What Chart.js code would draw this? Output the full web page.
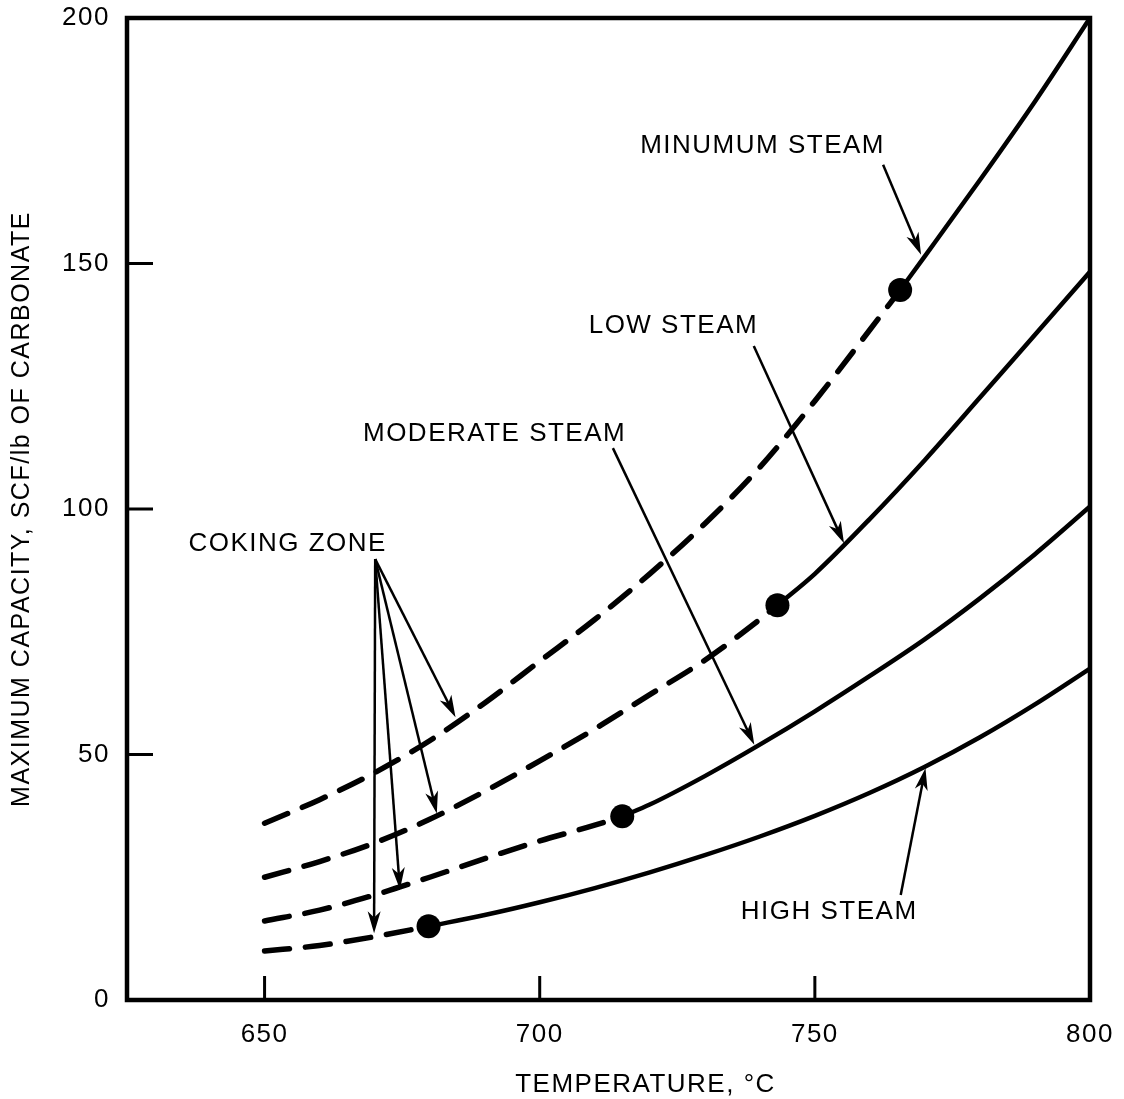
<!DOCTYPE html>
<html>
<head>
<meta charset="utf-8">
<title>Maximum capacity vs temperature</title>
<script src="https://cdn.jsdelivr.net/npm/chart.js@4.4.1/dist/chart.umd.min.js"></script>
<style>
  html, body { margin: 0; padding: 0; background: #fff; }
  #wrap { width: 1124px; height: 1099px; }
</style>
</head>
<body>
<div id="wrap"><canvas id="capacityChart" width="1124" height="1099"></canvas></div>
<script>
// Values (temperature in deg C, capacity in SCF/lb)
const tempTicks = [650, 700, 750, 800];
const capTicks = [0, 50, 100, 150, 200];

const minSteamTemp = [650, 660, 670, 680, 690, 700, 710, 720, 730, 740, 750, 760, 765.5, 770, 780, 790, 800];
const minSteamCap  = [36, 40.8, 46.3, 52.8, 60.5, 69, 77.5, 86.8, 97, 108.5, 122, 136.5, 144.6, 151.5, 167, 183, 200];

const lowSteamTemp = [650, 660, 670, 680, 690, 700, 710, 720, 730, 740, 743.2, 750, 760, 770, 780, 790, 800];
const lowSteamCap  = [25, 28.2, 32, 36.8, 42.5, 48.7, 55.2, 62.2, 69.2, 77.5, 80.4, 86.8, 98, 110, 122.7, 135.5, 148.3];

const modSteamTemp = [650, 660, 670, 680, 690, 700, 710, 715, 720, 730, 740, 750, 760, 770, 780, 790, 800];
const modSteamCap  = [16.1, 18.3, 21.4, 25, 28.8, 32.4, 35.6, 37.4, 39.8, 45.6, 52, 58.8, 66, 73.5, 81.8, 90.8, 100.5];

const highSteamTemp = [650, 660, 670, 679.8, 690, 700, 710, 720, 730, 740, 750, 760, 770, 780, 790, 800];
const highSteamCap  = [10, 11.1, 12.9, 15, 17.3, 19.9, 22.8, 26, 29.5, 33.3, 37.5, 42.2, 47.5, 53.5, 60.2, 67.5];

// coking limit: the curves are dashed below these points, solid above
const limitTemp = [765.5, 743.2, 715, 679.8];
const limitCap  = [144.6, 80.4, 37.4, 15];

const fontFamily = '"Liberation Sans", Arial, Helvetica, sans-serif';
const spacing = '1.5px';

// callouts, placed in data units
const notes = [
  { text: 'MINUMUM STEAM', at: [740.5, 173.9] },
  { text: 'LOW STEAM', at: [724.3, 137.3] },
  { text: 'MODERATE STEAM', at: [691.8, 115.3] },
  { text: 'COKING ZONE', at: [654.2, 92.9] },
  { text: 'HIGH STEAM', at: [752.6, 18] }
];
const arrows = [
  { from: [762.4, 170.1], to: [769.3, 151.8] },
  { from: [738.9, 133.2], to: [755.3, 93.0] },
  { from: [713.3, 112.4], to: [739.0, 52.0] },
  { from: [670.1, 89.8], to: [684.7, 57.6] },
  { from: [670.1, 89.8], to: [681.3, 38.0] },
  { from: [670.1, 89.8], to: [674.6, 22.5] },
  { from: [670.1, 89.8], to: [669.9, 13.6] },
  { from: [765.6, 21.4], to: [770.1, 47.2] }
];

const curves = [
  [minSteamTemp, minSteamCap],
  [lowSteamTemp, lowSteamCap],
  [modSteamTemp, modSteamCap],
  [highSteamTemp, highSteamCap]
];

const datasets = [{
  label: 'limit',
  data: limitTemp.map((t, i) => ({ x: t, y: limitCap[i] })),
  showLine: false,
  pointRadius: 12,
  pointHoverRadius: 12,
  pointBackgroundColor: '#000',
  pointBorderWidth: 0,
  order: 0
}];

curves.forEach(([temps, caps], i) => {
  const pts = temps.map((t, k) => ({ x: t, y: caps[k] }));
  datasets.push({
    label: 'coking ' + i,
    data: pts.filter(p => p.x <= limitTemp[i]),
    borderColor: '#000',
    borderWidth: 5.5,
    borderDash: [25, 16],
    borderCapStyle: 'round',
    pointRadius: 0,
    cubicInterpolationMode: 'monotone',
    fill: false,
    order: 1
  });
  datasets.push({
    label: 'curve ' + i,
    data: pts.filter(p => p.x >= limitTemp[i]),
    borderColor: '#000',
    borderWidth: 4.5,
    pointRadius: 0,
    cubicInterpolationMode: 'monotone',
    fill: false,
    order: 1
  });
});

function drawArrow(ctx, x1, y1, x2, y2) {
  const ang = Math.atan2(y2 - y1, x2 - x1);
  const c = Math.cos(ang), s = Math.sin(ang);
  const len = 22, half = 6.5;
  ctx.beginPath();
  ctx.moveTo(x1, y1);
  ctx.lineTo(x2 - c * len * 0.7, y2 - s * len * 0.7);
  ctx.stroke();
  ctx.beginPath();
  ctx.moveTo(x2, y2);
  ctx.lineTo(x2 - c * len + s * half, y2 - s * len - c * half);
  ctx.lineTo(x2 - c * len * 0.72, y2 - s * len * 0.72);
  ctx.lineTo(x2 - c * len - s * half, y2 - s * len + c * half);
  ctx.closePath();
  ctx.fill();
}

// tick labels may hang past the plot box; the layout padding already leaves room
function noLabelOverhang(s) {
  s.paddingTop = 0;
  s.paddingBottom = 0;
  s.paddingLeft = 0;
  s.paddingRight = 0;
}

const framePlugin = {
  id: 'frameAndNotes',
  beforeInit(chart) {
    // the scanned lettering is wide, so open it up a little everywhere
    chart.ctx.letterSpacing = spacing;
  },
  beforeDraw(chart) {
    chart.ctx.letterSpacing = spacing;
  },
  afterDatasetsDraw(chart) {
    const { ctx, chartArea: a, scales: { x, y } } = chart;
    ctx.save();
    ctx.strokeStyle = '#000';
    ctx.fillStyle = '#000';

    // box round the plot
    ctx.lineWidth = 4.5;
    ctx.strokeRect(a.left, a.top, a.right - a.left, a.bottom - a.top);

    // tick marks point inwards
    ctx.lineWidth = 3;
    ctx.beginPath();
    x.ticks.forEach(t => {
      const px = x.getPixelForValue(t.value);
      ctx.moveTo(px, a.bottom);
      ctx.lineTo(px, a.bottom - 24);
    });
    y.ticks.forEach(t => {
      const py = y.getPixelForValue(t.value);
      ctx.moveTo(a.left, py);
      ctx.lineTo(a.left + 26, py);
    });
    ctx.stroke();

    // callouts
    ctx.font = '26px ' + fontFamily;
    ctx.letterSpacing = spacing;
    ctx.textAlign = 'center';
    ctx.textBaseline = 'middle';
    notes.forEach(n => {
      ctx.fillText(n.text, x.getPixelForValue(n.at[0]), y.getPixelForValue(n.at[1]));
    });
    ctx.lineWidth = 2.5;
    arrows.forEach(ar => {
      drawArrow(ctx,
        x.getPixelForValue(ar.from[0]), y.getPixelForValue(ar.from[1]),
        x.getPixelForValue(ar.to[0]), y.getPixelForValue(ar.to[1]));
    });

    // x axis title sits a little right of centre in the original
    ctx.fillText('TEMPERATURE, \u00B0C', (a.left + a.right) / 2 + 37, 1085);
    ctx.restore();
  }
};

new Chart(document.getElementById('capacityChart').getContext('2d'), {
  type: 'line',
  data: { datasets: datasets },
  options: {
    responsive: false,
    animation: false,
    layout: { padding: { top: 18, right: 34, left: 0, bottom: 0 } },
    plugins: {
      legend: { display: false },
      tooltip: { enabled: false }
    },
    scales: {
      x: {
        type: 'linear',
        min: 625,
        max: 800,
        afterBuildTicks: s => { s.ticks = tempTicks.map(v => ({ value: v })); },
        afterFit: s => { s.height = 99; noLabelOverhang(s); },
        grid: { display: false, drawTicks: false },
        border: { display: false },
        ticks: { padding: 19, color: '#000', font: { size: 26, family: fontFamily } }
      },
      y: {
        type: 'linear',
        min: 0,
        max: 200,
        afterBuildTicks: s => { s.ticks = capTicks.map(v => ({ value: v })); },
        afterFit: s => { s.width = 127; noLabelOverhang(s); },
        grid: { display: false, drawTicks: false },
        border: { display: false },
        ticks: { padding: 17, color: '#000', font: { size: 26, family: fontFamily } },
        title: {
          display: true,
          text: 'MAXIMUM CAPACITY, SCF/lb OF CARBONATE',
          color: '#000',
          font: { size: 25, family: fontFamily },
          padding: { top: 7, bottom: 0 }
        }
      }
    }
  },
  plugins: [framePlugin]
});
</script>
</body>
</html>
